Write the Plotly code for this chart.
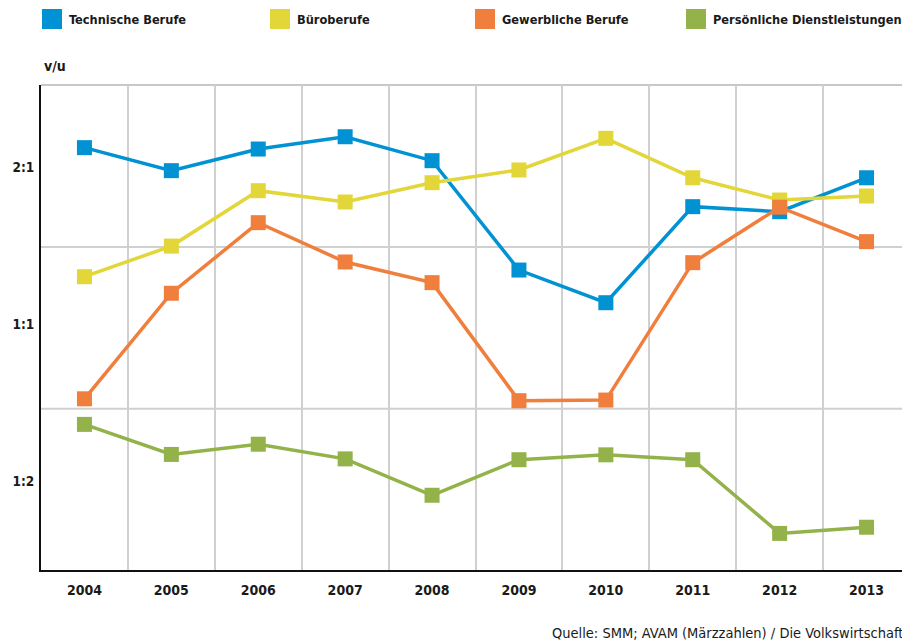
import plotly.graph_objects as go

years = ["2004", "2005", "2006", "2007", "2008", "2009", "2010", "2011", "2012", "2013"]

series_names = ["Technische Berufe", "Büroberufe", "Gewerbliche Berufe", "Persönliche Dienstleistungen"]
technische = [2.185, 1.974, 2.172, 2.293, 2.063, 1.273, 1.102, 1.684, 1.647, 1.913]
buero = [1.236, 1.415, 1.807, 1.719, 1.872, 1.980, 2.277, 1.913, 1.734, 1.765]
gewerbliche = [0.721, 1.149, 1.569, 1.319, 1.204, 0.715, 0.717, 1.315, 1.680, 1.443]
persoenliche = [0.644, 0.564, 0.590, 0.553, 0.471, 0.551, 0.563, 0.551, 0.398, 0.409]
series_values = [technische, buero, gewerbliche, persoenliche]
colors = ["#0092D2", "#E2D638", "#F07E3C", "#93B24A"]

y_tick_vals = [2, 1, 0.5]
y_tick_text = ["2:1", "1:1", "1:2"]
y_grid_vals = [1.41, 0.69]

FONT = "DejaVu Sans Condensed"

# page has an 8px body margin; the figure is sized to fill the rest of the window
OFF = 8
W, H = 910 - OFF, 642 - OFF
L, T, B = 41 - OFF, 85 - OFF, 72
PW, PH = W - L, H - T - B

def px(x):
    return (x - OFF - L) / PW

def py(y):
    return (H - B - (y - OFF)) / PH

fig = go.Figure()
for name, vals, col in zip(series_names, series_values, colors):
    fig.add_trace(go.Scatter(
        x=years, y=vals, name=name, mode="lines+markers",
        line=dict(color=col, width=3.5),
        marker=dict(symbol="square", size=15, color=col),
        showlegend=False,
    ))

shapes = []
for gv in y_grid_vals:
    shapes.append(dict(type="line", xref="paper", yref="y", x0=0, x1=1, y0=gv, y1=gv,
                       line=dict(color="#D0D0D0", width=2), layer="below"))
shapes.append(dict(type="line", xref="paper", yref="paper", x0=0, x1=1, y0=1, y1=1,
                   line=dict(color="#C8C8C8", width=2), layer="below"))

legend_x = [42, 270, 475, 686]
annotations = []
for name, col, lx in zip(series_names, colors, legend_x):
    shapes.append(dict(type="rect", xref="paper", yref="paper",
                       x0=px(lx), x1=px(lx + 20), y0=py(29), y1=py(9),
                       fillcolor=col, line=dict(width=0)))
    annotations.append(dict(text="<b>" + name + "</b>", xref="paper", yref="paper",
                            x=px(lx + 25), y=py(19.5),
                            xanchor="left", yanchor="middle", showarrow=False,
                            font=dict(family=FONT, size=12.7, color="#1a1a1a")))

annotations.append(dict(text="<b>v/u</b>", xref="paper", yref="paper",
                        x=px(42), y=py(66), xanchor="left", yanchor="middle",
                        showarrow=False, font=dict(family=FONT, size=14, color="#1a1a1a")))
annotations.append(dict(text="Quelle: SMM; AVAM (Märzzahlen) / Die Volkswirtschaft",
                        xref="paper", yref="paper", x=px(905), y=py(633),
                        xanchor="right", yanchor="middle", showarrow=False,
                        font=dict(family=FONT, size=14.5, color="#1a1a1a")))

fig.update_layout(
    width=W, height=H,
    margin=dict(l=L, r=0, t=T, b=B),
    paper_bgcolor="white", plot_bgcolor="white",
    shapes=shapes, annotations=annotations,
    font=dict(family=FONT, size=14, color="#1a1a1a"),
    xaxis=dict(type="category", range=[-0.5, 9.5], tickson="boundaries",
               showgrid=True, gridcolor="#D0D0D0", gridwidth=2,
               showline=True, linecolor="#111111", linewidth=2,
               ticks="", ticklabelstandoff=6, automargin=False,
               tickfont=dict(family=FONT, size=14, weight="bold", color="#1a1a1a"),
               zeroline=False, fixedrange=True),
    yaxis=dict(type="log", range=[-0.4703, 0.4596],
               tickvals=y_tick_vals, ticktext=y_tick_text,
               showgrid=False, showline=True, linecolor="#111111", linewidth=2,
               ticks="", ticklabelstandoff=2, automargin=False,
               tickfont=dict(family=FONT, size=13.5, weight="bold", color="#1a1a1a"),
               zeroline=False, fixedrange=True),
)

fig.write_html("out.html")
